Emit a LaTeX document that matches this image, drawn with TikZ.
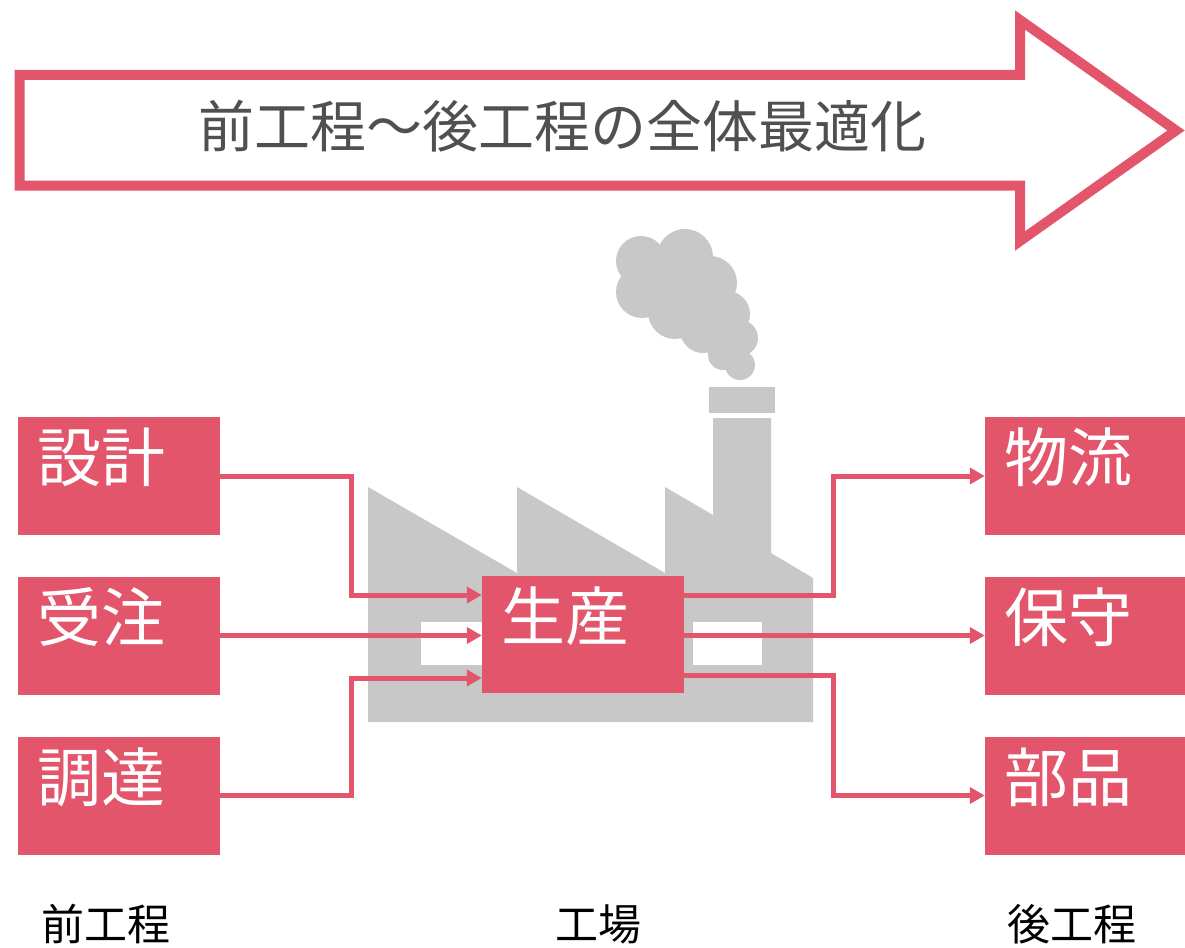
\documentclass[tikz,border=0pt]{standalone}
\usepackage{fontspec}
\setmainfont{Noto Sans CJK JP}
\usetikzlibrary{arrows.meta,calc}
\definecolor{rosa}{RGB}{227,85,107}
\definecolor{smoke}{RGB}{200,200,200}
\definecolor{ink}{RGB}{80,80,80}

\begin{document}
\begin{tikzpicture}[x=1pt, y=-1pt,
    box/.style={fill=rosa, minimum width=202pt, minimum height=118pt, inner sep=0pt},
    lbl/.style={anchor=north west, text=white, inner xsep=19pt, inner ysep=11pt,
      font=\fontsize{64}{70}\selectfont},
    flow/.style={draw=rosa, line width=5pt, -{Triangle[length=15pt, width=16pt]}},
    foot/.style={font=\fontsize{43}{48}\selectfont}]
  \useasboundingbox (0,0) rectangle (1185,947);

  \draw[draw=rosa, line width=10pt, fill=white] (19.5,75) -- (1020,75) -- (1020,20)
    -- (1176,130.5) -- (1020,241) -- (1020,185.5) -- (19.5,185.5) -- cycle;
  \node[text=ink, font=\fontsize{56}{60}\selectfont] (goal) at (562,126)
    {前工程〜後工程の全体最適化};

  \fill[smoke] (368,722) -- (368,487) -- (517,573) -- (517,487) -- (665,573)
    -- (665,487) -- (713,515) -- (713,418) -- (771,418) -- (771,553)
    -- (813,578) -- (813,722) -- cycle;
  \fill[smoke] (709,387) rectangle (775,413);
  \foreach \cx/\cy/\r in {685/257/28, 641/261/25, 642/292/26, 675/312/27,
      710/283/27, 727/314/23, 740/338/18, 723/355/15, 740/365/15,
      703/330/23, 690/295/30, 663/280/26, 718/340/16}
    \fill[smoke] (\cx,\cy) circle[radius=\r pt];
  \fill[white] (421,622) rectangle (490,665);
  \fill[white] (693,622) rectangle (762,665);

  \node[box, label={[lbl]north west:設計}] (pre1) at (119,476) {};
  \node[box, label={[lbl]north west:受注}] (pre2) at (119,635.5) {};
  \node[box, label={[lbl]north west:調達}] (pre3) at (119,795.5) {};
  \node[box, minimum height=117pt, label={[lbl]north west:生産}] (prod) at (583,634.5) {};
  \node[box, label={[lbl]north west:物流}] (post1) at (1086,476) {};
  \node[box, label={[lbl]north west:保守}] (post2) at (1086,635.5) {};
  \node[box, label={[lbl]north west:部品}] (post3) at (1086,795.5) {};

  \coordinate (jl) at (351,0);
  \coordinate (jr) at (833,0);
  \coordinate (in1) at ($(prod.west)+(0,-39.5)$);
  \coordinate (in3) at ($(prod.west)+(0,43.5)$);
  \coordinate (out1) at ($(prod.east)+(0,-39.5)$);
  \coordinate (out3) at ($(prod.east)+(0,41)$);

  \draw[flow] (pre1.east) -| (jl |- in1) -- (in1);
  \draw[flow] (pre2.east) -- (pre2 -| prod.west);
  \draw[flow] (pre3.east) -| (jl |- in3) -- (in3);
  \draw[flow] (out1) -| (jr |- post1) -- (post1.west);
  \draw[flow] (prod.east |- post2) -- (post2.west);
  \draw[flow] (out3) -| (jr |- post3) -- (post3.west);

  \node[foot] (stage1) at (105.5,924) {前工程};
  \node[foot] (stage2) at (598.5,924) {工場};
  \node[foot] (stage3) at (1071.5,924) {後工程};
\end{tikzpicture}
\end{document}
